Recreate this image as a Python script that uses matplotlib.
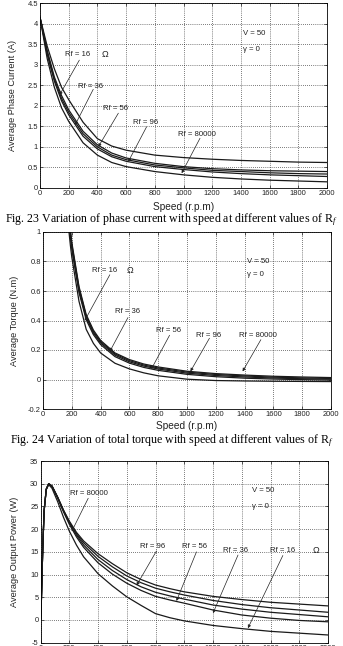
import matplotlib
matplotlib.use("Agg")
import matplotlib.pyplot as plt
from matplotlib.ticker import FuncFormatter

plt.rcParams['font.family'] = ['Liberation Sans', 'DejaVu Sans']
plt.rcParams['mathtext.fontset'] = 'custom'
plt.rcParams['mathtext.rm'] = 'Liberation Serif'
plt.rcParams['mathtext.it'] = 'Liberation Serif:italic'

# ---- Fig. 23: average phase current (A) vs speed
speed_i = [0, 50, 100, 150, 200, 300, 400, 500, 600, 800, 1000, 1200, 1400, 1600, 1800, 2000]
cur_rf16 = [4.15, 3.45, 2.9, 2.45, 2.15, 1.6, 1.2, 1.02, 0.92, 0.80, 0.74, 0.70, 0.67, 0.65, 0.63, 0.62]
cur_rf36 = [4.15, 3.35, 2.7, 2.25, 1.9, 1.38, 1.05, 0.85, 0.73, 0.60, 0.52, 0.47, 0.44, 0.42, 0.41, 0.40]
cur_rf56 = [4.15, 3.3, 2.65, 2.18, 1.84, 1.32, 1.0, 0.80, 0.69, 0.56, 0.49, 0.43, 0.40, 0.37, 0.35, 0.34]
cur_rf96 = [4.15, 3.25, 2.6, 2.12, 1.78, 1.26, 0.95, 0.76, 0.65, 0.52, 0.45, 0.39, 0.35, 0.32, 0.30, 0.28]
cur_rf80000 = [4.15, 3.15, 2.45, 1.95, 1.62, 1.1, 0.80, 0.62, 0.52, 0.40, 0.32, 0.26, 0.22, 0.19, 0.17, 0.15]

# ---- Fig. 24: average torque (N.m) vs speed
speed_t = [170, 190, 200, 250, 300, 350, 400, 500, 600, 700, 800, 1000, 1200, 1400, 1600, 1800, 2000]
trq_a = [1.22, 1.02, 0.93, 0.63, 0.44, 0.335, 0.265, 0.18, 0.135, 0.105, 0.085, 0.056, 0.04, 0.03, 0.022, 0.017, 0.013]
trq_b = [1.2, 1.0, 0.915, 0.62, 0.43, 0.325, 0.257, 0.173, 0.128, 0.098, 0.078, 0.05, 0.034, 0.024, 0.016, 0.011, 0.007]
trq_c = [1.18, 0.985, 0.9, 0.605, 0.42, 0.316, 0.248, 0.165, 0.12, 0.091, 0.071, 0.043, 0.027, 0.017, 0.01, 0.005, 0.002]
trq_d = [1.16, 0.97, 0.885, 0.59, 0.405, 0.304, 0.237, 0.155, 0.111, 0.082, 0.062, 0.035, 0.019, 0.009, 0.003, -0.001, -0.004]
trq_e = [1.1, 0.91, 0.83, 0.53, 0.34, 0.245, 0.18, 0.11, 0.072, 0.045, 0.025, 0.002, -0.007, -0.01, -0.012, -0.013, -0.014]

# ---- Fig. 25: average output power (W) vs speed
speed_p = [0, 5, 15, 25, 40, 57, 80, 120, 160, 200, 250, 300, 400, 500, 600, 700, 800, 900, 1000, 1200, 1400, 1600, 1800, 2000]
pow_1 = [0, 3, 15, 24, 28.8, 30, 29.5, 27, 24.2, 21.8, 19.3, 17.4, 14.6, 12.4, 10.4, 8.9, 7.7, 6.9, 6.2, 5.2, 4.5, 3.9, 3.5, 3.1]
pow_2 = [0, 3, 15, 24, 28.8, 30, 29.5, 27, 24.1, 21.6, 19.0, 17.0, 14.0, 11.7, 9.7, 8.2, 7.0, 6.2, 5.5, 4.3, 3.4, 2.7, 2.2, 1.7]
pow_3 = [0, 3, 15, 24, 28.8, 30, 29.5, 26.9, 24.0, 21.4, 18.7, 16.5, 13.3, 10.9, 8.9, 7.3, 6.1, 5.3, 4.6, 3.3, 2.4, 1.7, 1.2, 0.7]
pow_4 = [0, 3, 15, 24, 28.8, 30, 29.4, 26.8, 23.8, 21.1, 18.3, 16.0, 12.6, 10.1, 8.1, 6.5, 5.2, 4.4, 3.7, 2.2, 1.1, 0.4, -0.1, -0.4]
pow_5 = [0, 3, 15, 24, 28.7, 29.8, 29.0, 26.0, 22.6, 19.6, 16.5, 13.9, 10.2, 7.5, 5.1, 3.2, 1.4, 0.5, -0.2, -1.2, -1.9, -2.5, -2.9, -3.3]

# label text, text anchor (x, y), arrow start, arrow tip
lab_i = [("Rf = 16", (174, 3.24), (274, 3.11), (136, 2.26)),
         ("Rf = 36", (268, 2.48), (371, 2.40), (244, 1.53)),
         ("Rf = 56", (439, 1.94), (546, 1.82), (406, 1.00)),
         ("Rf = 96", (648, 1.59), (743, 1.49), (615, 0.64)),
         ("Rf = 80000", (963, 1.29), (1115, 1.21), (987, 0.36))]
lab_t = [("Rf = 16", (338, 0.74), (464, 0.71), (290, 0.40)),
         ("Rf = 36", (498, 0.46), (590, 0.42), (464, 0.19)),
         ("Rf = 56", (787, 0.335), (879, 0.30), (752, 0.07)),
         ("Rf = 96", (1065, 0.30), (1156, 0.28), (1024, 0.055)),
         ("Rf = 80000", (1363, 0.30), (1513, 0.27), (1386, 0.055))]
lab_p = [("Rf = 80000", (205, 27.9), (332, 26.8), (217, 19.5)),
         ("Rf = 96", (691, 16.1), (807, 15.2), (668, 7.6)),
         ("Rf = 56", (983, 16.1), (1085, 15.0), (946, 4.2)),
         ("Rf = 36", (1268, 15.2), (1374, 14.3), (1200, 1.5)),
         ("Rf = 16", (1594, 15.2), (1686, 14.2), (1443, -1.8))]

W, H = 343, 646
fig = plt.figure(figsize=(W / 100, H / 100), dpi=100)
ink = '#222222'


def make_axes(left, right, top, bottom):
    return fig.add_axes([left / W, 1 - bottom / H, (right - left) / W, (bottom - top) / H])


def style(ax, ylim, yticks, ylabel, ylab_x):
    ax.set_xlim(0, 2000)
    ax.set_ylim(*ylim)
    ax.set_xticks(range(0, 2001, 200))
    ax.set_yticks(yticks)
    ax.yaxis.set_major_formatter(FuncFormatter(lambda v, p: '%g' % round(v, 3)))
    ax.tick_params(direction='in', length=2.5, width=0.5, labelsize=5.4, pad=1.5,
                   top=True, right=True, colors=ink)
    ax.grid(True, color='k', linestyle=(0, (1, 2)), linewidth=0.5)
    for s in ax.spines.values():
        s.set_linewidth(0.6)
    ax.set_ylabel(ylabel, fontsize=6.6, color=ink)
    ax.yaxis.set_label_coords(ylab_x, 0.5)


def labels(ax, labs, vg, omega_x, oy_idx=0):
    for txt, pos, start, tip in labs:
        ax.text(pos[0], pos[1], txt, fontsize=5.6, va='center', ha='left', color=ink)
        ax.annotate('', xy=tip, xytext=start,
                    arrowprops=dict(arrowstyle='-|>', lw=0.5, color=ink,
                                    mutation_scale=4.5, shrinkA=0, shrinkB=0))
    ax.text(omega_x, labs[oy_idx][1][1], "Ω", fontsize=6.5, va='center', ha='left', color=ink)
    ax.text(vg[0], vg[1], "V = 50", fontsize=5.6, va='center', ha='left', color=ink)
    ax.text(vg[0], vg[2], "γ = 0", fontsize=5.6, va='center', ha='left', color=ink)


lw = 0.9
col = '#1a1a1a'

# panel 1
ax1 = make_axes(40, 327, 3, 188)
for y in [cur_rf16, cur_rf36, cur_rf56, cur_rf96, cur_rf80000]:
    ax1.plot(speed_i, y, color=col, lw=lw)
style(ax1, (0, 4.5), [i * 0.5 for i in range(10)], "Average Phase Current (A)", -0.08)
ax1.set_xlabel("Speed (r.p.m)", fontsize=7.3, color=ink)
ax1.xaxis.set_label_coords(0.5, -0.075)
labels(ax1, lab_i, (1415, 3.77, 3.38), 432)

# panel 2
ax2 = make_axes(43, 331, 232, 409)
for y in [trq_a, trq_b, trq_c, trq_d, trq_e]:
    ax2.plot(speed_t, y, color=col, lw=lw)
style(ax2, (-0.2, 1), [-0.2, 0, 0.2, 0.4, 0.6, 0.8, 1.0], "Average Torque (N.m)", -0.083)
ax2.set_xlabel("Speed (r.p.m)", fontsize=7.3, color=ink)
ax2.xaxis.set_label_coords(0.5, -0.065)
labels(ax2, lab_t, (1420, 0.80, 0.71), 580)

# panel 3 (bottom tick labels are cut off in the original scan)
ax3 = make_axes(40.5, 328, 461, 642.7)
for y in [pow_1, pow_2, pow_3, pow_4, pow_5]:
    ax3.plot(speed_p, y, color=col, lw=lw)
style(ax3, (-5, 35), list(range(-5, 36, 5)), "Average Output Power (W)", -0.074)
labels(ax3, lab_p, (1469, 28.6, 25.0), 1892, oy_idx=4)

# captions
fig.text(0.5, 1 - 220 / H, r"Fig. 23 Variation of phase current with speed at different values of R$_{f}$",
         ha='center', va='center', fontsize=8.6, family='Liberation Serif')
fig.text(0.5, 1 - 441 / H, r"Fig. 24 Variation of total torque with speed at different values of R$_{f}$",
         ha='center', va='center', fontsize=8.6, family='Liberation Serif')

fig.savefig("out.png", dpi=100)
